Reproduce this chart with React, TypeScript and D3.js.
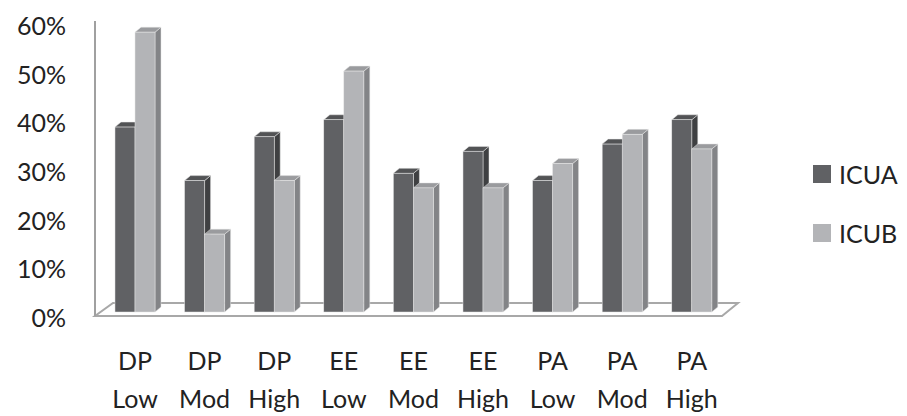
import React from "react";
import * as d3 from "d3";

const categories = ["DP Low", "DP Mod", "DP High", "EE Low", "EE Mod", "EE High", "PA Low", "PA Mod", "PA High"];
const seriesNames = ["ICUA", "ICUB"];
const icuaValues = [38, 27, 36, 39.5, 28.5, 33, 27, 34.5, 39.5];
const icubValues = [57.5, 16, 27, 49.5, 25.5, 25.5, 30.5, 36.5, 33.5];
const yTicks = [0, 10, 20, 30, 40, 50, 60];

const W = 907;
const H = 416;
const FONT = "Lato, Calibri, 'Open Sans', sans-serif";
const colors: Record<string, { front: string; side: string; top: string }> = {
  ICUA: { front: "#606164", side: "#3f4042", top: "#525355" },
  ICUB: { front: "#b3b4b7", side: "#838487", top: "#9a9b9e" },
};
const DX = 6;
const DY = 5;

export default function App() {
  const step = 69.6;
  const x = d3
    .scaleBand<string>()
    .domain(categories)
    .range([135 - step / 2, 135 - step / 2 + step * categories.length])
    .paddingInner(0.425)
    .paddingOuter(0.2125)
    .align(0.5);
  const xs = d3.scaleBand<string>().domain(seriesNames).range([0, x.bandwidth()]);
  const y = d3.scaleLinear().domain([0, 60]).range([312, 20]);
  const y0 = y(0);

  const data = [icuaValues, icubValues];

  const floor = { fl: [95, 316], fr: [722, 316], br: [738, 303], bl: [113, 303] };

  return (
    <svg
      width={W}
      height={H}
      style={{ position: "absolute", left: 0, top: 0, background: "#fff" }}
      fontFamily={FONT}
    >
      {/* floor */}
      <polygon
        points={[floor.fl, floor.fr, floor.br, floor.bl].map((p) => p.join(",")).join(" ")}
        fill="#fff"
        stroke="#a8a8a8"
        strokeWidth={2}
      />
      {/* value axis line */}
      <line x1={95} x2={95} y1={21} y2={316} stroke="#a0a0a0" strokeWidth={2} />

      {/* y tick labels */}
      {yTicks.map((t) => (
        <text
          key={t}
          x={66}
          y={y(t) + 5}
          textAnchor="end"
          dominantBaseline="central"
          fontSize={25}
          fill="#222"
        >
          {t}%
        </text>
      ))}

      {/* bars */}
      {categories.map((c, i) => (
        <g key={c}>
          {seriesNames.map((s, si) => {
            const v = data[si][i];
            const bx = (x(c) as number) + (xs(s) as number);
            const bw = xs.bandwidth();
            const yt = y(v);
            const col = colors[s];
            return (
              <g key={s}>
                <polygon
                  points={`${bx + bw},${yt} ${bx + bw + DX},${yt - DY} ${bx + bw + DX},${y0 - DY} ${bx + bw},${y0}`}
                  fill={col.side}
                  stroke="#e6e6e6"
                  strokeWidth={0.5}
                />
                <polygon
                  points={`${bx},${yt} ${bx + bw},${yt} ${bx + bw + DX},${yt - DY} ${bx + DX},${yt - DY}`}
                  fill={col.top}
                  stroke="#e6e6e6"
                  strokeWidth={0.5}
                />
                <rect x={bx} y={yt} width={bw} height={y0 - yt} fill={col.front} stroke="#e6e6e6" strokeWidth={0.5} />
              </g>
            );
          })}
        </g>
      ))}

      {/* x labels */}
      {categories.map((c) => {
        const cx = (x(c) as number) + x.bandwidth() / 2;
        const [l1, l2] = c.split(" ");
        return (
          <g key={c}>
            <text x={cx} y={360} textAnchor="middle" dominantBaseline="central" fontSize={25} fill="#222">
              {l1}
            </text>
            <text x={cx} y={398} textAnchor="middle" dominantBaseline="central" fontSize={25} fill="#222">
              {l2}
            </text>
          </g>
        );
      })}

      {/* legend */}
      {seriesNames.map((s, i) => {
        const cy = 174 + i * 59;
        return (
          <g key={s}>
            <rect x={813} y={cy - 9} width={18} height={18} fill={colors[s].front} />
            <text x={839} y={cy} dominantBaseline="central" fontSize={25} fill="#222">
              {s}
            </text>
          </g>
        );
      })}
    </svg>
  );
}
